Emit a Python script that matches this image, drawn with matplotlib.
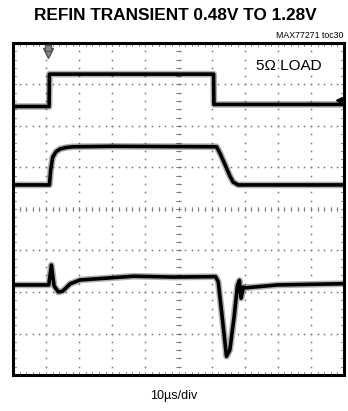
import numpy as np
import matplotlib
matplotlib.use("Agg")
import matplotlib.pyplot as plt

# scope traces, in divisions (x: 0..10, y: 0..8 from the bottom)
refin_t = [0, 1.09, 1.10, 6.06, 6.07, 10]
refin_v = [6.47, 6.47, 7.25, 7.25, 6.52, 6.52]

vout_t = [0, 1.10, 1.14, 1.20, 1.30, 1.43, 1.60, 1.80, 3.0, 6.15, 6.25, 6.40, 6.55, 6.65, 6.80, 10]
vout_v = [4.58, 4.58, 4.95, 5.25, 5.38, 5.45, 5.48, 5.50, 5.51, 5.50, 5.35, 5.08, 4.80, 4.65, 4.58, 4.58]

il_t = [0, 1.08, 1.16, 1.24, 1.37, 1.50, 1.73, 2.03, 3.64, 4.85, 6.12, 6.20, 6.32, 6.45,
        6.55, 6.68, 6.78, 6.84, 6.89, 6.96, 7.0, 8.0, 10]
il_v = [2.17, 2.17, 2.65, 2.15, 2.00, 2.02, 2.20, 2.29, 2.38, 2.36, 2.37, 2.25, 1.40, 0.45,
        0.60, 1.40, 2.15, 2.28, 1.85, 2.12, 2.10, 2.17, 2.20]

title = "REFIN TRANSIENT 0.48V TO 1.28V"
tag = "MAX77271 toc30"
load_label = "5\u03a9 LOAD"
xscale_label = "10\u00b5s/div"

plt.rcParams['font.family'] = ['Liberation Sans', 'DejaVu Sans']

fig = plt.figure(figsize=(3.48, 4.11), dpi=100)
ax = fig.add_axes([13/348, 1 - 375/411, 331/348, 332/411])
ax.set_xlim(0, 10)
ax.set_ylim(0, 8)
ax.set_xticks([])
ax.set_yticks([])
for s in ax.spines.values():
    s.set_linewidth(2.2)
    s.set_color("black")

# dotted graticule
fine_x = np.arange(0, 10.01, 0.2)
fine_y = np.arange(0, 8.01, 0.2)
for gy in range(1, 8):
    ax.plot(fine_x, np.full_like(fine_x, gy), ls="none", marker="s", ms=1.1,
            color="#777777", mec="none", zorder=1)
for gx in range(1, 10):
    ax.plot(np.full_like(fine_y, gx), fine_y, ls="none", marker="s", ms=1.1,
            color="#777777", mec="none", zorder=1)

# center cross and edge ticks
tk = dict(color="#777777", lw=0.6, zorder=1)
for x in fine_x:
    ax.plot([x, x], [4 - 0.06, 4 + 0.06], **tk)
    ax.plot([x, x], [0, 0.08], **tk)
    ax.plot([x, x], [8 - 0.08, 8], **tk)
for y in fine_y:
    ax.plot([5 - 0.08, 5 + 0.08], [y, y], **tk)
    ax.plot([0, 0.1], [y, y], **tk)
    ax.plot([10 - 0.1, 10], [y, y], **tk)

# traces: soft noise band plus dark core
for t, v in [(refin_t, refin_v), (vout_t, vout_v), (il_t, il_v)]:
    ax.plot(t, v, color="black", lw=4.8, alpha=0.3, solid_joinstyle="round", zorder=3)
    ax.plot(t, v, color="black", lw=2.6, solid_joinstyle="round", zorder=4)

# trigger marker and level arrow
ax.plot([1.06], [7.75], marker="v", ms=7, color="#888888", mec="#555555", zorder=5,
        clip_on=False)
ax.plot([1.06], [7.88], marker="s", ms=5, color="#888888", mec="#555555", zorder=5,
        clip_on=False)
ax.plot([9.84], [6.63], marker="<", ms=4.5, color="black", zorder=5)
ax.plot([9.84, 9.95], [6.63, 6.63], color="black", lw=1, zorder=5)

ax.text(7.35, 7.45, load_label, fontsize=11, ha="left", va="center", zorder=6)

fig.text(0.503, 1 - 15/411, title, fontsize=12.4, fontweight="bold", ha="center",
         va="center", family=['Liberation Sans Narrow', 'Liberation Sans', 'DejaVu Sans'])
fig.text(343/348, 1 - 36/411, tag, fontsize=6.3, ha="right", va="center")
fig.text(0.5, 1 - 396/411, xscale_label, fontsize=9, ha="center", va="center")

fig.savefig("out.png", dpi=100)
